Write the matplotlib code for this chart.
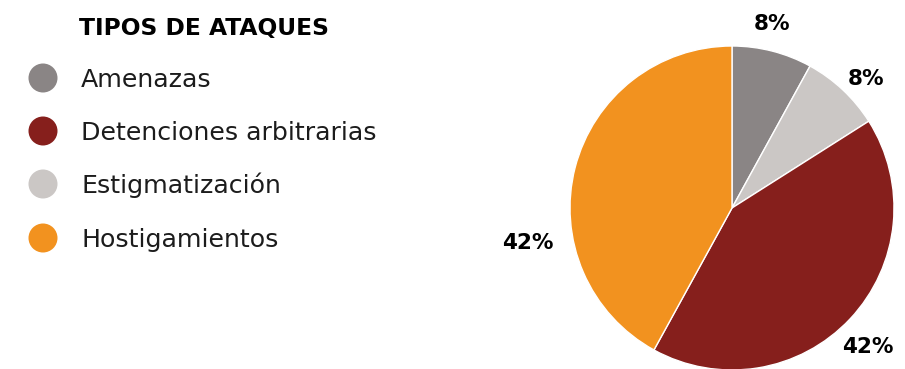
import numpy as np
import matplotlib
matplotlib.use("Agg")
import matplotlib.pyplot as plt
from matplotlib.patches import Circle

# Attack types, in legend order
categories = ["Amenazas", "Detenciones arbitrarias", "Estigmatización", "Hostigamientos"]
shares = [8, 42, 8, 42]
colors = ["#8a8585", "#861f1c", "#cbc7c5", "#f2921f"]
title = "TIPOS DE ATAQUES"

# Order of the wedges, clockwise from 12 o'clock
pie_order = [0, 2, 1, 3]

W, H = 905, 369
fig = plt.figure(figsize=(W / 100, H / 100), dpi=100)
ax = fig.add_axes([0, 0, 1, 1])

cx, cy, r = 732, H - 208, 162
vals = [shares[i] for i in pie_order]
cols = [colors[i] for i in pie_order]
wedges, _ = ax.pie(vals, colors=cols, startangle=90, counterclock=False,
                   center=(cx, cy), radius=r, frame=True,
                   wedgeprops=dict(edgecolor="white", linewidth=1.0))
ax.set_xlim(0, W)
ax.set_ylim(0, H)
ax.set_aspect("equal")
ax.axis("off")

# Percentage labels outside each wedge
label_dist = [1.16, 1.15, 1.20, 1.28]
label_turn = [2, -3, -2.6, 24]
for w, v, f, t in zip(wedges, vals, label_dist, label_turn):
    ang = np.deg2rad((w.theta1 + w.theta2) / 2 + t)
    x = cx + f * r * np.cos(ang)
    y = cy + f * r * np.sin(ang)
    ax.text(x, y, f"{v}%", ha="center", va="center", fontsize=15.5,
            fontweight="bold", family="DejaVu Sans", color="black")

# Title and legend
ax.text(79, H - 35, title, ha="left", va="baseline", fontsize=16.8,
        fontweight="bold", family="DejaVu Sans", color="black")
rows_y = [78, 131, 184, 238]
for name, col, yy in zip(categories, colors, rows_y):
    ax.add_patch(Circle((43, H - yy), 14.5, color=col, lw=0))
    ax.text(81, H - yy - 9, name, ha="left", va="baseline", fontsize=18.2,
            family="DejaVu Sans", color="#1c1c1c")

fig.savefig("out.png", dpi=100)
